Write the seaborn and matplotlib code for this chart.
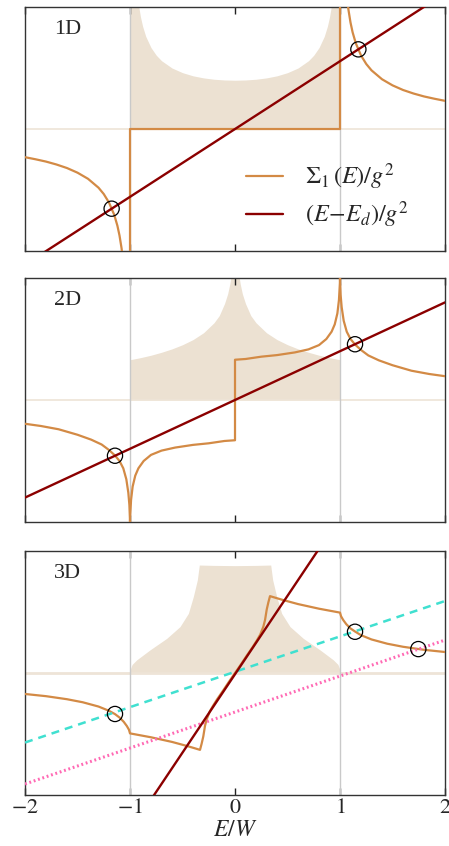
import matplotlib
matplotlib.use('Agg')
import matplotlib.pyplot as plt
import seaborn as sns

# ---- 1D panel ----
e1_dos = [-1.0, -0.95, -0.92, -0.9, -0.88, -0.85, -0.8, -0.75, -0.7, -0.6, -0.5, -0.4, -0.3, -0.2, -0.1, 0.0,
          0.1, 0.2, 0.3, 0.4, 0.5, 0.6, 0.7, 0.75, 0.8, 0.85, 0.88, 0.9, 0.92, 0.95, 1.0]
rho1 = [3.0, 1.28, 1.02, 0.918, 0.842, 0.759, 0.667, 0.605, 0.56, 0.50, 0.462, 0.436, 0.419, 0.408, 0.402, 0.40,
        0.402, 0.408, 0.419, 0.436, 0.462, 0.50, 0.56, 0.605, 0.667, 0.759, 0.842, 0.918, 1.02, 1.28, 3.0]
e1_sig = [-2.0, -1.9, -1.8, -1.7, -1.6, -1.5, -1.4, -1.3, -1.25, -1.2, -1.15, -1.12, -1.1, -1.08, -1.06, -1.0,
          -1.0, 1.0, 1.0, 1.06, 1.08, 1.1, 1.12, 1.15, 1.2, 1.25, 1.3, 1.4, 1.5, 1.6, 1.7, 1.8, 1.9, 2.0]
sig1 = [-0.231, -0.248, -0.267, -0.291, -0.320, -0.358, -0.408, -0.481, -0.533, -0.603, -0.704, -0.793, -0.873,
        -0.98, -1.14, -3.0, 0.0, 0.0, 3.0, 1.14, 0.98, 0.873, 0.793, 0.704, 0.603, 0.533, 0.481, 0.408, 0.358,
        0.320, 0.291, 0.267, 0.248, 0.231]
line1_x = [-2.0, 2.0]
line1_y = [-1.112, 1.112]
circ1_x = [-1.175, 1.175]
circ1_y = [-0.653, 0.653]

# ---- 2D panel ----
e2_dos = [-1.0, -0.9, -0.8, -0.7, -0.6, -0.5, -0.4, -0.3, -0.2, -0.15, -0.1, -0.07, -0.05, -0.03, -0.015, 0.0,
          0.015, 0.03, 0.05, 0.07, 0.1, 0.15, 0.2, 0.3, 0.4, 0.5, 0.6, 0.7, 0.8, 0.9, 1.0]
rho2 = [0.33, 0.347, 0.367, 0.391, 0.419, 0.453, 0.495, 0.551, 0.633, 0.692, 0.79, 0.87, 0.95, 1.06, 1.2, 3.0,
        1.2, 1.06, 0.95, 0.87, 0.79, 0.692, 0.633, 0.551, 0.495, 0.453, 0.419, 0.391, 0.367, 0.347, 0.33]
e2_sig = [-2.0, -1.85, -1.68, -1.5, -1.37, -1.27, -1.2, -1.143, -1.1, -1.064, -1.035, -1.016, -1.006, -1.001,
          -1.0, -0.999, -0.99, -0.975, -0.95, -0.92, -0.87, -0.8, -0.7, -0.57, -0.4, -0.25, -0.1, 0.0,
          0.0, 0.1, 0.25, 0.4, 0.57, 0.7, 0.8, 0.87, 0.92, 0.95, 0.975, 0.99, 0.999, 1.0,
          1.001, 1.006, 1.016, 1.035, 1.064, 1.1, 1.143, 1.2, 1.27, 1.37, 1.5, 1.68, 1.85, 2.0]
sig2 = [-0.195, -0.213, -0.24, -0.285, -0.325, -0.365, -0.41, -0.455, -0.50, -0.56, -0.65, -0.76, -0.86, -0.97,
        -1.3, -0.96, -0.82, -0.71, -0.62, -0.56, -0.50, -0.45, -0.415, -0.39, -0.368, -0.355, -0.336, -0.33,
        0.33, 0.336, 0.355, 0.368, 0.39, 0.415, 0.45, 0.50, 0.56, 0.62, 0.71, 0.82, 0.96, 1.3,
        0.97, 0.86, 0.76, 0.65, 0.56, 0.50, 0.455, 0.41, 0.365, 0.325, 0.285, 0.24, 0.213, 0.195]
line2_x = [-2.0, 2.0]
line2_y = [-0.80, 0.80]
circ2_x = [-1.143, 1.143]
circ2_y = [-0.457, 0.457]

# ---- 3D panel ----
e3_dos = [-1.0, -0.994, -0.98, -0.937, -0.81, -0.65, -0.524, -0.444, -0.397, -0.359, -0.34, -0.2, 0.0,
          0.2, 0.34, 0.359, 0.397, 0.444, 0.524, 0.65, 0.81, 0.937, 0.98, 0.994, 1.0]
rho3 = [0.0, 0.038, 0.07, 0.107, 0.189, 0.284, 0.38, 0.489, 0.626, 0.762, 0.885, 0.882, 0.88,
        0.882, 0.885, 0.762, 0.626, 0.489, 0.38, 0.284, 0.189, 0.107, 0.07, 0.038, 0.0]
e3_sig = [-2.0, -1.8, -1.6, -1.45, -1.3, -1.2, -1.143, -1.1, -1.06, -1.03, -1.01, -1.0,
          -0.8, -0.6, -0.45, -0.3333, -0.318, -0.302, -0.286, -0.27, -0.24, -0.21, -0.17, -0.11, -0.06, 0.0,
          0.06, 0.11, 0.17, 0.21, 0.24, 0.27, 0.286, 0.302, 0.318, 0.3333, 0.45, 0.6, 0.8,
          1.0, 1.01, 1.03, 1.06, 1.1, 1.143, 1.2, 1.3, 1.45, 1.6, 1.8, 2.0]
sig3 = [-0.172, -0.19, -0.215, -0.24, -0.275, -0.31, -0.337, -0.365, -0.40, -0.435, -0.465, -0.495,
        -0.527, -0.565, -0.60, -0.63, -0.58, -0.52, -0.434, -0.38, -0.315, -0.27, -0.215, -0.14, -0.075, 0.0,
        0.075, 0.14, 0.215, 0.27, 0.315, 0.38, 0.434, 0.52, 0.58, 0.63, 0.60, 0.565, 0.527,
        0.495, 0.465, 0.435, 0.40, 0.365, 0.34, 0.31, 0.275, 0.24, 0.215, 0.19, 0.172]
line3_x = [-2.0, 2.0]
line3_y = [-2.58, 2.56]
cyan_y = [-0.57, 0.59]
pink_y = [-0.91, 0.27]
circ3_x = [-1.143, 1.143, 1.746]
circ3_y = [-0.336, 0.338, 0.196]

panel_names = ['1D', '2D', '3D']
xticks = [-2, -1, 0, 1, 2]
xtick_labels = [r'$-2$', r'$-1$', r'$0$', r'$1$', r'$2$']

# ---- style ----
sns.set_theme(style='ticks')
plt.rcParams['font.family'] = ['Liberation Serif', 'DejaVu Serif']
plt.rcParams['mathtext.fontset'] = 'stix'

c_orange = '#D38A45'
c_red = '#8B0000'
c_shade = '#ECE1D2'
c_zero = '#EEE4D7'
c_grid = '#C9C9C9'

fig = plt.figure(figsize=(4.49, 8.46), dpi=100)
bottoms = [0.7033, 0.3830, 0.0603]
axes = [fig.add_axes([0.0557, b, 0.9354, 0.2884]) for b in bottoms]

dos = [(e1_dos, rho1), (e2_dos, rho2), (e3_dos, rho3)]
sig = [(e1_sig, sig1), (e2_sig, sig2), (e3_sig, sig3)]
lines = [(line1_x, line1_y), (line2_x, line2_y), (line3_x, line3_y)]
circs = [(circ1_x, circ1_y), (circ2_x, circ2_y), (circ3_x, circ3_y)]

for i, ax in enumerate(axes):
    ax.fill_between(dos[i][0], 0, dos[i][1], color=c_shade, lw=0, zorder=0.5)
    ax.axhline(0, color=c_zero, lw=2.0 if i == 2 else 1.2, zorder=1)
    for xv in [-1, 1]:
        ax.axvline(xv, color=c_grid, lw=1.0, zorder=1.5)

    sns.lineplot(x=sig[i][0], y=sig[i][1], sort=False, estimator=None, ax=ax,
                 color=c_orange, lw=1.6, zorder=3, label=r'$\Sigma_1\,(E)/g^2$' if i == 0 else None)
    if i == 2:
        sns.lineplot(x=line3_x, y=cyan_y, ax=ax, color='#40E0D0', lw=1.8,
                     linestyle=(0, (3.2, 2.4)), zorder=3.5)
        sns.lineplot(x=line3_x, y=pink_y, ax=ax, color='#FF69B4', lw=2.2,
                     linestyle=(0, (0.6, 0.9)), zorder=3.5)
    sns.lineplot(x=lines[i][0], y=lines[i][1], ax=ax, color=c_red, lw=1.7, zorder=4,
                 label=r'$(E\!-\!E_d)/g^2$' if i == 0 else None)
    sns.scatterplot(x=circs[i][0], y=circs[i][1], ax=ax, s=120, marker='o',
                    facecolors='none', edgecolors='black', linewidths=0.9, zorder=6)

    ax.set_xlim(-2, 2)
    ax.set_ylim(-1, 1)
    ax.set_xticks(xticks)
    ax.set_xticklabels(xtick_labels)
    ax.set_yticks([])
    ax.tick_params(axis='x', direction='in', top=True, bottom=True, length=5, width=1.0,
                   color='#222222', labelsize=16, pad=3)
    for sp in ax.spines.values():
        sp.set_color('#333333')
        sp.set_linewidth(1.0)
    ax.text(0.07, 0.906, panel_names[i], transform=ax.transAxes, ha='left', va='center', fontsize=16)
    if i < 2:
        ax.tick_params(axis='x', labelbottom=False)
    ax.set_xlabel('')
    ax.set_ylabel('')

axes[0].legend(loc='lower right', bbox_to_anchor=(0.965, -0.005), frameon=False, fontsize=17.5,
               handlelength=1.5, handletextpad=0.9, labelspacing=0.32)
axes[2].set_xlabel(r'$E/W$', fontsize=17, labelpad=1)

plt.savefig('out.png', dpi=100)
